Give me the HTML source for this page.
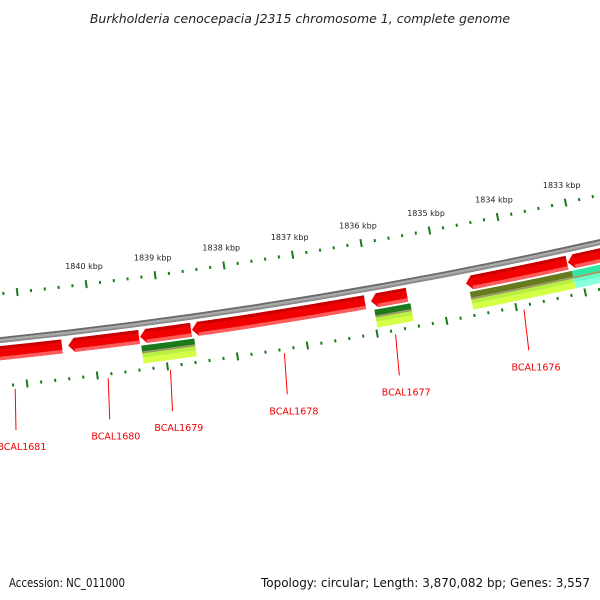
<!DOCTYPE html>
<html><head><meta charset="utf-8"><style>
html,body{margin:0;padding:0;background:#fff;width:600px;height:600px;overflow:hidden}
svg{display:block;font-family:"DejaVu Sans","Liberation Sans",sans-serif}
</style></head><body>
<svg id="map" width="600" height="600" viewBox="0 0 600 600" xmlns="http://www.w3.org/2000/svg">
<defs>
<radialGradient id="gBack" gradientUnits="userSpaceOnUse" cx="-538" cy="-4838" r="5210" fx="-538" fy="-4838">
<stop offset="0.9990" stop-color="#555"/><stop offset="0.9995" stop-color="#bbb"/><stop offset="1" stop-color="#888"/></radialGradient>
</defs>
<text x="300" y="23" text-anchor="middle" font-size="12.5" font-style="italic" fill="#222">Burkholderia cenocepacia J2315 chromosome 1, complete genome</text>
<g id="ticks"></g>
<g id="backbone"></g>
<g id="genes"></g>
<g id="hits"></g>
<g id="labels"></g>
<text x="9" y="587" font-size="12" fill="#111" textLength="116" lengthAdjust="spacingAndGlyphs">Accession: NC_011000</text>
<text x="261" y="587" font-size="12" fill="#111" textLength="329" lengthAdjust="spacingAndGlyphs">Topology: circular; Length: 3,870,082 bp; Genes: 3,557</text>
</svg>
<script>
// data
const geneNames = ["BCAL1681","BCAL1680","BCAL1679","BCAL1678","BCAL1677","BCAL1676","BCAL1675"];
const geneStart = [1841.9,1840.36,1839.33,1838.585,1836.006,1834.631,1833.15];
const geneEnd   = [1840.45,1839.345,1838.599,1836.092,1835.485,1833.163,1832.2];
const showLabel = [true,true,true,true,true,true,false];
const hitStart = [1839.33,1835.98,1834.6,1833.12];
const hitEnd   = [1838.57,1835.46,1833.12,1832.2];
const hitType  = ["green","green","olive","teal"];
const outerTicks = [1833,1834,1835,1836,1837,1838,1839,1840,1841];
const tickLabels = ["1833 kbp","1834 kbp","1835 kbp","1836 kbp","1837 kbp","1838 kbp","1839 kbp","1840 kbp",""];

const NS="http://www.w3.org/2000/svg";
const CX=-538, CY=-4838;
function ang(k){return 0.12127+(1840-k)*0.013467;}
function pt(k,r){const a=ang(k);return [CX+r*Math.sin(a),CY+r*Math.cos(a)];}
function arc(k1,k2,r){ // path segment from k1 to k2 at radius r
  const p=pt(k2,r); const sweep = k2<k1?0:1;
  return `A${r},${r} 0 0 ${sweep} ${p[0].toFixed(2)},${p[1].toFixed(2)}`;}
function mk(tag,attrs,parent){const e=document.createElementNS(NS,tag);for(const k in attrs)e.setAttribute(k,attrs[k]);parent.appendChild(e);return e;}
function band(k1,k2,r1,r2,fill,parent){
  const a=pt(k1,r1);
  const d=`M${a[0]},${a[1]} ${arc(k1,k2,r1)} L${pt(k2,r2).join(',')} ${arc(k2,k1,r2)} Z`;
  return mk('path',{d:d,fill:fill},parent);}

// backbone
const bb=document.getElementById('backbone');
const b1=band(1843,1831,5203,5205,'#6a6a6a',bb);


const b2=band(1843,1831,5205,5207,'#a8a8a8',bb);


const b3=band(1843,1831,5207,5209,'#8a8a8a',bb);



// ticks
const tg=document.getElementById('ticks');
function tickRow(rc,from,to,withLabels){
  for(let i=Math.round(from*5);i>=Math.round(to*5);i--){
    const k=i/5; const major=(i%5===0);
    const h=major?4:1.5;
    const p1=pt(k,rc-h),p2=pt(k,rc+h);
    const t=mk('line',{x1:p1[0],y1:p1[1],x2:p2[0],y2:p2[1],stroke:'#1a7a1a','stroke-width':2},tg);
    
    
  }
}
tickRow(5160,1841.2,1832,true);
tickRow(5252,1842,1832,false);
outerTicks.forEach((k,i)=>{
  if(!tickLabels[i])return;
  const p=pt(k,5142);
  const t=mk('text',{x:p[0],y:p[1]+3,'text-anchor':'middle','font-size':8,fill:'#222'},tg);
  t.textContent=tickLabels[i];
  
  
});

// genes
const gg=document.getElementById('genes');
geneNames.forEach((n,i)=>{
  const s=geneStart[i],e=geneEnd[i],r1=5212,r2=5226,rm=5219;
  const hk=6/5219/0.013467;
  const g=mk('g',{},gg);
  
  
  const sh=s-hk;
  function shape(ra,rb,fill){
    const tip=pt(s,rm),a=pt(sh,ra),b=pt(sh,rb);
    const f=(ra===r1)?a:b;
    const d=`M${tip.join(',')} L${a.join(',')} ${arc(sh,e,ra)} L${pt(e,rb).join(',')} ${arc(e,sh,rb)} Z`;
    mk('path',{d:d,fill:fill},g);
  }
  shape(r1,r2,'#f00000');
  band(sh,e,r1,r1+3,'#c80000',g);
  band(sh,e,r2-3.5,r2,'#ff5c5c',g);
});

// hits
const hg=document.getElementById('hits');
const hitCols={green:['#1c7a1c','#3e9a30','#b8f040','#d4ff44'],olive:['#667a1e','#8a9a30','#b8f040','#d4ff44'],teal:['#2ee8a4','#44f0b0','#66ffcc','#88ffdd']};
hitStart.forEach((s,i)=>{
  const e=hitEnd[i],c=hitCols[hitType[i]];
  const g=mk('g',{},hg);
  
  
  band(s,e,5228,5234,c[0],g);
  band(s,e,5234,5236,'#9a9a60',g);
  band(s,e,5236,5240,c[2],g);
  band(s,e,5240,5246,c[3],g);
});

// labels
const lg=document.getElementById('labels');
geneNames.forEach((n,i)=>{
  if(!showLabel[i])return;
  const k=(geneStart[i]+geneEnd[i])/2;
  const p1=pt(k,5256),p2=pt(k+0.05,5297),p3=pt(k+0.07,5310);
  const l=mk('line',{x1:p1[0],y1:p1[1],x2:p2[0],y2:p2[1],stroke:'#f00','stroke-width':1},lg);
  
  
  const t=mk('text',{x:p3[0]+6,y:p3[1]+7,'text-anchor':'middle','font-size':9.5,fill:'#e00'},lg);
  t.textContent=n;
  
  
});
</script>
</body></html>
